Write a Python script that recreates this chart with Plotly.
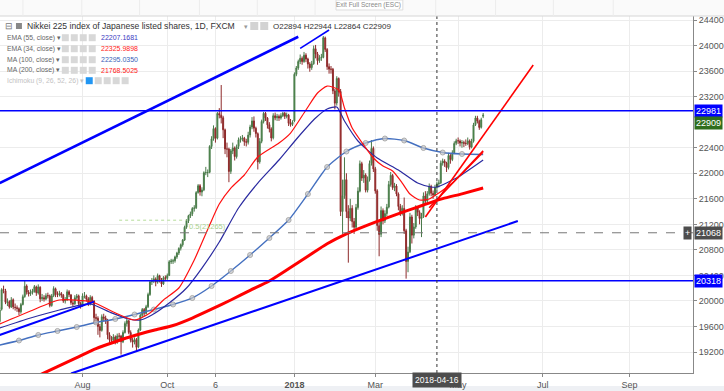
import plotly.graph_objects as go
import pandas as pd

# ---------------- data ----------------
bar_dates = pd.bdate_range("2017-06-01", "2018-05-18")  # daily weekday bars

opens = [19680,19870,20180,20160,19975,19990,19905,20020,19900,19895,19880,19830,19945,20070,20235,20135,20115,20130,20150,20220,20125,20215,
20035,20050,20030,20085,20080,19930,20085,20190,20100,20095,20115,20090,20000,20020,20145,20095,19970,19955,20050,20080,19960,
19925,20080,20080,20030,19950,20055,20000,19740,19730,19600,19540,19750,19730,19700,19470,19390,19385,19435,19355,19450,19450,19360,19505,
19645,19690,19505,19385,19355,19395,19280,19545,19775,19865,19805,19910,20100,20300,20310,20345,20295,20395,20330,20265,20365,
20355,20400,20615,20625,20630,20690,20750,20825,20880,20955,21155,21255,21335,21365,21450,21460,21700,21805,21705,21740,22010,22010,
22015,22420,22540,22700,22550,22935,22910,22870,22680,22380,22380,22030,22350,22395,22260,22420,22525,22540,22550,22495,22485,22600,
22725,22820,22705,22620,22180,22500,22810,22940,22865,22760,22695,22555,22900,22870,22890,22865,22900,22940,22890,22910,22785,
22765,22820,23550,23650,23750,23800,23750,23850,23790,23710,23655,23715,23950,23870,23765,23810,23815,24120,23940,23670,23630,23630,23290,
23100,23485,23280,21400,21650,21900,21400,21300,21450,21245,21155,21465,21720,22150,21925,21970,21735,21895,22155,22390,
22070,21725,21180,21045,21415,21255,21370,21470,21825,21965,21775,21800,21675,21480,21380,21450,21100,20620,20770,21315,21030,21160,
21455,21385,21290,21320,21645,21565,21680,21795,21685,21660,21780,21835,21850,22160,22190,22160,22090,22280,22215,22320,22470,
22510,22505,22475,22480,22470,22465,22505,22410,22500,22760,22865,22815,22720,22894]
highs = [19900,20200,20240,20190,20040,20010,20060,20040,19960,19930,19900,19970,20100,20318,20260,20170,20180,20190,20250,20240,20260,20230,
20110,20090,20120,20130,20100,20110,20230,20210,20150,20160,20140,20110,20060,20180,20170,20110,20010,20090,20110,20100,19990,
20120,20140,20100,20060,20090,20080,20010,19800,19760,19640,19790,19800,19770,19720,19510,19450,19480,19460,19490,19500,19470,19540,19680,
19720,19700,19540,19420,19430,19420,19570,19800,19890,19890,19940,20130,20320,20360,20400,20370,20430,20410,20360,20390,20400,
20430,20640,20660,20660,20710,20770,20840,20900,20970,21180,21280,21350,21400,21470,21500,21720,21830,21830,21780,22030,22100,22060,
22440,22580,22750,22720,22960,23020,23382,22900,22700,22480,22400,22380,22480,22420,22450,22560,22580,22600,22570,22540,22650,22760,
22880,22890,22730,22640,22550,22840,22960,22960,22880,22800,22720,22940,22950,22930,22920,22940,22960,22960,22950,22930,22850,
22830,23580,23680,23780,23860,23830,23900,23880,23810,23740,23760,24000,24010,23900,23850,23870,24150,24140,23960,23720,23680,23650,23320,
23520,23500,23320,21900,22250,22000,21500,21600,21500,21300,21520,21780,22200,22180,22050,22000,21950,22200,22520,22420,
22100,21750,21250,21480,21450,21420,21520,21880,22020,21990,21850,21830,21700,21520,21500,21620,21130,20850,21380,21350,21220,21500,
21480,21420,21380,21700,21720,21720,21840,21820,21730,21820,21870,21900,22200,22230,22220,22180,22320,22300,22360,22500,22540,
22560,22530,22520,22510,22530,22560,22530,22540,22790,22900,22900,22840,22870,22944]
lows = [19660,19850,20120,19950,19920,19880,19890,19870,19850,19830,19780,19800,19930,20050,20100,20070,20080,20100,20130,20080,20100,19980,
20000,19990,20010,20040,19900,19910,20060,20060,20060,20070,20050,19970,19960,20000,20060,19940,19910,19940,20020,19930,19880,
19910,20040,19990,19920,19930,19960,19650,19640,19470,19430,19520,19680,19640,19400,19330,19340,19360,19320,19330,19400,19160,19340,19490,
19600,19480,19350,19270,19320,19210,19260,19530,19740,19760,19790,19890,20080,20250,20280,20230,20270,20290,20220,20250,20310,
20330,20390,20580,20580,20600,20660,20720,20790,20850,20940,21130,21220,21300,21330,21400,21440,21680,21650,21640,21720,21970,21940,
22000,22380,22510,22480,22530,22860,22780,22550,22300,22250,21860,21990,22300,22200,22230,22380,22480,22500,22430,22420,22450,22560,
22690,22650,22560,22060,22150,22470,22780,22820,22700,22640,22500,22530,22830,22820,22820,22840,22880,22850,22860,22740,22730,
22740,22800,23520,23620,23710,23700,23730,23740,23640,23590,23620,23700,23800,23700,23730,23760,23800,23900,23620,23560,23560,23240,23000,
23060,23200,21330,21050,21600,21300,20600,21250,21150,21050,21120,21430,21700,21880,21850,21700,21700,21870,22120,22020,
21680,21100,20700,21000,21200,21220,21330,21450,21790,21740,21720,21640,21420,21330,21340,21050,20350,20450,20750,20900,20980,21130,
21330,21200,21000,21300,21520,21530,21650,21640,21600,21640,21740,21780,21830,22120,22100,22020,22060,22150,22190,22300,22440,
22460,22420,22400,22410,22430,22440,22370,22390,22480,22740,22780,22680,22700,22864]
closes = [19860,20177,20170,19980,19984,19909,20013,19908,19898,19883,19831,19943,20067,20230,20138,20110,20132,20153,20225,20130,20220,20033,
20055,20032,20081,20081,19929,20080,20195,20098,20099,20118,20090,20000,20020,20144,20099,19975,19955,20050,20079,19959,19925,
20080,20080,20029,19952,20055,19996,19738,19729,19600,19537,19753,19729,19702,19470,19393,19383,19434,19353,19452,19449,19362,19506,19646,
19691,19508,19385,19357,19396,19274,19545,19776,19865,19807,19909,20100,20299,20310,20347,20296,20397,20330,20267,20363,20356,
20400,20614,20626,20628,20690,20750,20823,20881,20954,21155,21255,21336,21363,21448,21457,21697,21805,21707,21739,22008,22011,22011,
22420,22539,22700,22548,22937,22913,22869,22681,22381,22380,22028,22351,22397,22262,22417,22523,22540,22551,22495,22487,22597,22725,
22819,22707,22622,22177,22498,22811,22938,22866,22758,22694,22553,22901,22868,22891,22866,22902,22939,22892,22911,22783,22764,
22800,23550,23650,23750,23800,23750,23849,23788,23710,23653,23714,23951,23868,23763,23808,23816,24124,23940,23669,23631,23629,23291,23098,
23486,23274,21400,21650,21900,21400,21300,21450,21244,21154,21464,21720,22149,21925,21970,21736,21892,22153,22389,22068,
21724,21181,21042,21417,21252,21368,21469,21824,21968,21777,21803,21676,21480,21380,21450,21100,20617,20766,21317,21031,21159,21454,
21388,21292,21319,21645,21567,21678,21794,21687,21660,21778,21835,21847,22158,22191,22162,22088,22278,22215,22319,22467,22508,
22508,22473,22480,22470,22467,22508,22408,22497,22758,22866,22818,22717,22838,22909]

# moving averages
ma100_dates = ["2017-06-01","2017-06-15","2017-06-29","2017-07-13","2017-07-27","2017-08-10","2017-08-24","2017-09-07","2017-09-21",
               "2017-10-05","2017-10-19","2017-11-02","2017-11-16","2017-11-30","2017-12-14","2017-12-28","2018-01-11","2018-01-25",
               "2018-02-08","2018-02-22","2018-03-08","2018-03-22","2018-04-05","2018-04-19","2018-05-03","2018-05-18"]
ma100_vals = [19310,19381,19467,19530,19592,19663,19718,19788,19866,19945,20047,20234,20469,20720,20986,21268,21675,22098,
              22341,22474,22544,22513,22396,22325,22302,22295]
ma200_dates = ma100_dates
ma200_vals = [18559,18694,18831,18972,19113,19254,19361,19459,19541,19616,19733,19871,20015,20167,20313,20504,20700,20897,
              21052,21176,21291,21398,21503,21602,21678,21769]
ema55_dates = ["2017-06-01","2017-06-23","2017-07-14","2017-08-07","2017-08-21","2017-09-04","2017-09-12","2017-09-20","2017-10-03",
               "2017-10-16","2017-10-26","2017-11-08","2017-11-22","2017-12-06","2017-12-21","2018-01-04","2018-01-17","2018-01-25",
               "2018-02-01","2018-02-07","2018-02-16","2018-03-02","2018-03-19","2018-04-02","2018-04-11","2018-04-16","2018-05-01","2018-05-18"]
ema55_vals = [19577,19733,19859,19953,19827,19718,19702,19780,19968,20203,20516,20923,21456,21847,22208,22568,22865,23006,
              23038,22818,22505,22239,22051,21847,21785,21785,21941,22207]
ema34_dates = ["2017-06-01","2017-06-23","2017-07-14","2017-08-08","2017-08-23","2017-09-07","2017-09-19","2017-09-28","2017-10-10",
               "2017-10-20","2017-11-01","2017-11-08","2017-11-16","2017-11-27","2017-12-06","2017-12-21","2017-12-29","2018-01-10",
               "2018-01-18","2018-01-25","2018-02-02","2018-02-07","2018-02-13","2018-02-21","2018-02-28","2018-03-07","2018-03-14",
               "2018-03-21","2018-03-27","2018-04-03","2018-04-10","2018-04-17","2018-04-26","2018-05-04","2018-05-18"]
ema34_vals = [19639,19843,20015,19984,19827,19702,19812,20015,20203,20642,21190,21519,21769,21973,22255,22474,22630,22991,
              23257,23366,23304,23022,22709,22442,22239,22114,22035,21847,21675,21581,21597,21691,21847,22020,22326]

# drawn trend lines (date, price endpoints)
trend_upper_dates, trend_upper_vals = ["2017-06-01", "2018-01-04"], [21847, 24138]
trend_top_dates, trend_top_vals = ["2018-01-05", "2018-01-26"], [23957, 24243]
trend_left_dates, trend_left_vals = ["2017-06-01", "2017-08-09"], [19467, 19989]
trend_lower_dates, trend_lower_vals = ["2017-07-24", "2018-06-13"], [18863, 21252]
trend_red1_dates, trend_red1_vals = ["2018-04-06", "2018-06-25"], [21315, 23695]
trend_red2_dates, trend_red2_vals = ["2018-04-10", "2018-05-18"], [21460, 22350]
fib_dates, fib_val = ["2017-08-28", "2017-10-16"], 21265

level_high, level_low, last_close, cross_price, cross_date = 22981, 20318, 22909, 21068, "2018-04-16"

y_ticks = [19200, 19600, 20000, 20400, 20800, 21200, 21600, 22000, 22400, 23200, 23600, 24000, 24400]
x_tick_dates = ["2017-08-01", "2017-10-02", "2017-11-06", "2018-01-02", "2018-03-01", "2018-05-01", "2018-07-02", "2018-09-03"]
x_tick_text = ["Aug", "Oct", "6", "<b>2018</b>", "Mar", "May", "Jul", "Sep"]

# ---------------- figure ----------------
W, H = 724, 391
ML, MR, MT, MB = 0, 29, 16, 18
PH = H - MT - MB


def py(ypx):
    return 1 - (ypx - MT) / PH


def pxx(xpx):
    return xpx / (W - ML - MR)


FONT = "Liberation Sans, Arial, sans-serif"
BLUE = "#0000ff"

fig = go.Figure()

fig.add_trace(go.Candlestick(
    x=bar_dates, open=opens, high=highs, low=lows, close=closes,
    increasing=dict(line=dict(color="#4a7a4a", width=1), fillcolor="#3c9a3c"),
    decreasing=dict(line=dict(color="#8e2a2a", width=1), fillcolor="#b52a2a"),
    whiskerwidth=0, showlegend=False, hoverinfo="skip"))

fig.add_trace(go.Scatter(x=ma200_dates, y=ma200_vals, mode="lines",
                         line=dict(color="#ff0000", width=3, shape="spline", smoothing=0.6),
                         showlegend=False, hoverinfo="skip"))
fig.add_trace(go.Scatter(x=ma100_dates, y=ma100_vals, mode="lines+markers",
                         line=dict(color="#4470c0", width=1.4, shape="spline", smoothing=0.6),
                         marker=dict(size=[0] + [5] * (len(ma100_vals) - 2) + [0], color="#c9c9c9",
                                     line=dict(color="#8a8a8a", width=1)),
                         showlegend=False, hoverinfo="skip"))
fig.add_trace(go.Scatter(x=ema55_dates, y=ema55_vals, mode="lines",
                         line=dict(color="#2a2aa0", width=1.2, shape="spline", smoothing=0.6),
                         showlegend=False, hoverinfo="skip"))
fig.add_trace(go.Scatter(x=ema34_dates, y=ema34_vals, mode="lines",
                         line=dict(color="#ff1010", width=1.2, shape="spline", smoothing=0.6),
                         showlegend=False, hoverinfo="skip"))

for dx, vy, w, c in [(trend_upper_dates, trend_upper_vals, 2.6, BLUE),
                     (trend_top_dates, trend_top_vals, 1.6, BLUE),
                     (trend_left_dates, trend_left_vals, 2, BLUE),
                     (trend_lower_dates, trend_lower_vals, 2, BLUE),
                     (trend_red1_dates, trend_red1_vals, 1.6, "#ff0000"),
                     (trend_red2_dates, trend_red2_vals, 1.6, "#ff0000")]:
    fig.add_trace(go.Scatter(x=dx, y=vy, mode="lines", line=dict(color=c, width=w),
                             showlegend=False, hoverinfo="skip"))

fig.add_trace(go.Scatter(x=fib_dates, y=[fib_val, fib_val], mode="lines",
                         line=dict(color="#b5dc9a", width=1, dash="dot"), showlegend=False, hoverinfo="skip"))

shapes = []
# horizontal levels
for lv in (level_high, level_low):
    shapes.append(dict(type="line", xref="paper", x0=0, x1=1, yref="y", y0=lv, y1=lv,
                       line=dict(color=BLUE, width=1.5)))
# crosshair
shapes.append(dict(type="line", xref="x", x0=cross_date, x1=cross_date, yref="paper", y0=0, y1=1,
                   line=dict(color="#333", width=1, dash="dot")))
shapes.append(dict(type="line", xref="paper", x0=0, x1=1, yref="y", y0=cross_price, y1=cross_price,
                   line=dict(color="#777", width=1, dash="dash")))
# top frame line and bottom strip
shapes.append(dict(type="line", xref="paper", x0=0, x1=1.05, yref="paper", y0=1, y1=1,
                   line=dict(color="#d6d6d6", width=1)))
shapes.append(dict(type="rect", xref="paper", x0=-0.01, x1=1.05, yref="paper", y0=py(386), y1=py(392),
                   fillcolor="#eef0f4", line=dict(width=0), layer="below"))
shapes.append(dict(type="rect", xref="paper", x0=-0.01, x1=1.05, yref="paper", y0=py(0), y1=1,
                   fillcolor="#fafafa", line=dict(width=0), layer="below"))
for xx in (23, 82, 140, 200, 258, 316, 437, 497, 555, 615):
    shapes.append(dict(type="line", xref="paper", x0=pxx(xx), x1=pxx(xx), yref="paper", y0=1, y1=py(0),
                       line=dict(color="#ececec", width=1)))
# tooltip box
shapes.append(dict(type="rect", xref="paper", x0=pxx(337), x1=pxx(404), yref="paper", y0=py(10), y1=py(0),
                   fillcolor="#ffffff", line=dict(color="#dddddd", width=1)))

annotations = []


def txt(x, y, s, size=7, color="#555", anchor="left"):
    annotations.append(dict(xref="paper", yref="paper", x=pxx(x), y=py(y), text=s, showarrow=False,
                            xanchor=anchor, yanchor="middle", font=dict(family=FONT, size=size, color=color)))


def icon(x, y, color="#d3d3d3", w=7, h=7):
    shapes.append(dict(type="rect", xref="paper", yref="paper", x0=pxx(x), x1=pxx(x + w),
                       y0=py(y + h / 2), y1=py(y - h / 2), fillcolor=color, line=dict(width=0)))


txt(370, 4.5, "Exit Full Screen (ESC)", size=6.5, color="#888", anchor="center")

# legend block
txt(3, 26, "⊟", size=9, color="#777")
icon(16, 26, "#888", 6, 6)
txt(25, 26, "Nikkei 225 index of Japanese listed shares, 1D, FXCM", size=8.6, color="#333")
txt(243, 26, "▾", size=7, color="#999")
icon(251, 26, "#d3d3d3", 8, 8)
icon(261, 26, "#d3d3d3", 8, 8)
txt(272, 26, "O22894 H22944 L22864 C22909", size=8, color="#333")

rows = [("EMA (55, close)", "22207.1681", "#3b3bbf", 37.7),
        ("EMA (34, close)", "22325.9898", "#ff2020", 48.7),
        ("MA (100, close)", "22295.0350", "#3b5fb8", 59.7),
        ("MA (200, close)", "21768.5025", "#ff2020", 70.3)]
for name, val, col, yy in rows:
    txt(5, yy, name + " ▾", size=6.8, color="#666")
    for k in range(4):
        icon(62 + k * 9, yy, "#d8d8d8", 7, 7)
    txt(99, yy, val, size=7, color=col)
txt(5, 80.7, "Ichimoku (9, 26, 52, 26) ▾", size=6.8, color="#c2c2c2")
icon(86, 80.7, "#2196f3", 7, 7)
for k in range(1, 5):
    icon(86 + k * 9, 80.7, "#d8d8d8", 7, 7)

# fib label
annotations.append(dict(xref="x", yref="y", x="2017-10-16", y=fib_val, text="0.5(21265)", showarrow=False,
                        xanchor="left", yanchor="top", font=dict(family=FONT, size=7.5, color="#a9d18e")))

# right price labels (the last-close box is pushed below the level box, as in the reference)
for val, bg, ys in [(level_high, BLUE, 0), (last_close, "#2f6e1c", -8), (cross_price, "#4d4d4d", 0), (level_low, BLUE, 0)]:
    annotations.append(dict(xref="paper", yref="y", x=1, y=val, text=str(val), showarrow=False,
                            xanchor="left", yanchor="middle", xshift=1, yshift=ys, bgcolor=bg, borderpad=1,
                            font=dict(family=FONT, size=9, color="#ffffff")))
annotations.append(dict(xref="paper", yref="y", x=1, y=cross_price, text="+", showarrow=False,
                        xanchor="right", yanchor="middle", xshift=-1, bgcolor="#4d4d4d", borderpad=1,
                        font=dict(family=FONT, size=9, color="#ffffff")))
# bottom crosshair date label
annotations.append(dict(xref="x", yref="paper", x=cross_date, y=py(380), text=cross_date, showarrow=False,
                        xanchor="center", yanchor="middle", bgcolor="#4d4d4d", borderpad=2,
                        font=dict(family=FONT, size=8.5, color="#ffffff")))

fig.update_layout(
    width=W, height=H, margin=dict(l=ML, r=MR, t=MT, b=MB),
    paper_bgcolor="#ffffff", plot_bgcolor="#ffffff",
    showlegend=False, shapes=shapes, annotations=annotations,
    xaxis=dict(type="date", range=["2017-06-01 03:30", "2018-10-17 23:00"],
               rangebreaks=[dict(bounds=["sat", "mon"])], rangeslider=dict(visible=False),
               tickvals=x_tick_dates, ticktext=x_tick_text, ticks="outside", ticklen=3, tickcolor="#888",
               tickfont=dict(family=FONT, size=9, color="#555"), showgrid=True, gridcolor="#ececec",
               showline=True, linecolor="#888", linewidth=1, zeroline=False, fixedrange=True),
    yaxis=dict(side="right", range=[18872, 24463], tickvals=y_ticks, tickformat="d", ticks="outside", ticklen=3,
               tickcolor="#888", tickfont=dict(family=FONT, size=9, color="#555"),
               showgrid=True, gridcolor="#ececec", showline=True, linecolor="#888", linewidth=1,
               zeroline=False, fixedrange=True),
)

fig.write_html("out.html")
